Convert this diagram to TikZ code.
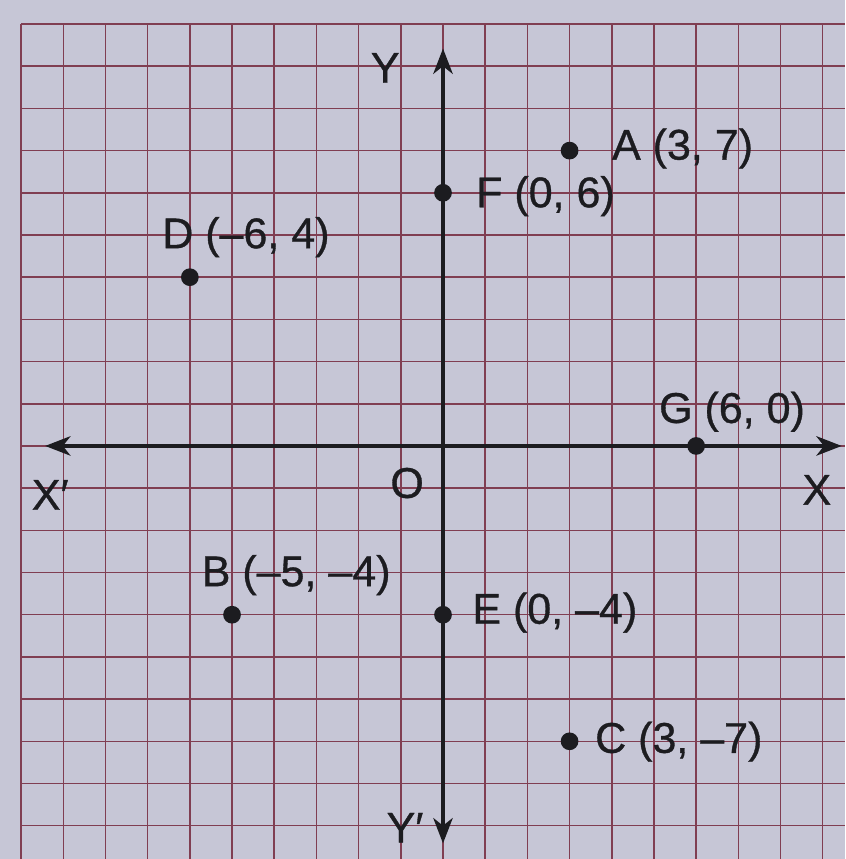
\documentclass[tikz,border=0pt]{standalone}
\usepackage{fontspec}
\setmainfont[FakeBold=0.8]{Liberation Sans}
\usetikzlibrary{arrows.meta}
\definecolor{paper}{RGB}{198,198,214}
\definecolor{gridc}{RGB}{128,62,82}
\definecolor{ink}{RGB}{28,28,32}
\begin{document}
\begin{tikzpicture}[x=1cm,y=1cm,
  lbl/.style={font=\fontsize{29}{32}\selectfont, text=ink, inner sep=0pt},
  pt/.style={circle, fill=ink, inner sep=0pt, minimum size=0.42cm},
  axisline/.style={line width=2.4pt, draw=ink, {Stealth[length=0.6cm, width=0.46cm, inset=0.18cm]}-{Stealth[length=0.6cm, width=0.46cm, inset=0.18cm]}},
  gridline/.style={gridc, line width=1pt}]
\fill[paper] (-10.5,-9.79) rectangle (9.53,10.57);
\useasboundingbox (-10.5,-9.79) rectangle (9.53,10.57);
\foreach \x in {-10,...,9} \draw[gridline] (\x,-9.79) -- (\x,10);
\foreach \y in {-9,...,10} \draw[gridline] (-10,\y) -- (9.53,\y);
% axes
\coordinate (xl) at (-9.43,0);
\coordinate (xr) at (9.45,0);
\coordinate (yt) at (0,9.42);
\coordinate (yb) at (0,-9.42);
\draw[axisline] (xl) -- (xr);
\draw[axisline] (yb) -- (yt);
% axis labels
\node[lbl] (O) at (-0.85,-0.88) {O};
\node[lbl] (Xp) at (-9.31,-1.16) {X′};
\node[lbl] (X) at (8.86,-1.04) {X};
\node[lbl] (Y) at (-1.37,8.96) {Y};
\node[lbl] (Yp) at (-0.9,-9.05) {Y′};
% points
\node[pt] (A) at (3,7) {};
\node[pt] (F) at (0,6) {};
\node[pt] (D) at (-6,4) {};
\node[pt] (G) at (6,0) {};
\node[pt] (B) at (-5,-4) {};
\node[pt] (E) at (0,-4) {};
\node[pt] (C) at (3,-7) {};
% point labels
\node[lbl, anchor=west] (Al) at (4.0,7.05) {A (3, 7)};
\node[lbl, anchor=west] (Fl) at (0.78,5.92) {F (0, 6)};
\node[lbl] (Dl) at (-4.67,4.95) {D (–6, 4)};
\node[lbl] (Gl) at (6.85,0.81) {G (6, 0)};
\node[lbl] (Bl) at (-3.48,-3.06) {B (–5, –4)};
\node[lbl, anchor=west] (El) at (0.69,-3.95) {E (0, –4)};
\node[lbl, anchor=west] (Cl) at (3.6,-7.01) {C (3, –7)};
\end{tikzpicture}
\end{document}
